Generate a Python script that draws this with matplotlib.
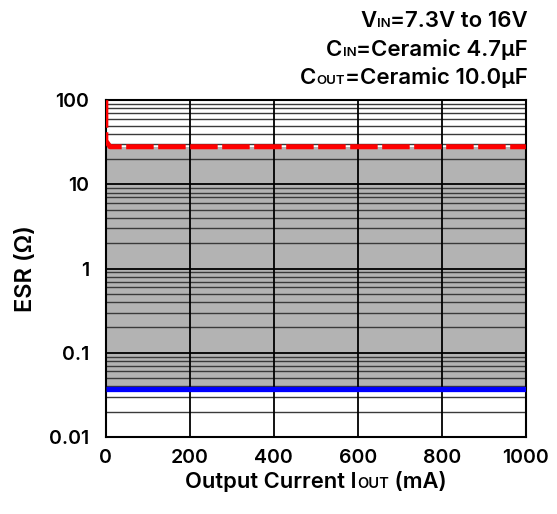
import numpy as np
import matplotlib
matplotlib.use("Agg")
import matplotlib.pyplot as plt
from matplotlib.offsetbox import TextArea, HPacker, AnchoredOffsetbox

plt.rcParams['font.family'] = ['Inter', 'DejaVu Sans']

# data
iout_range = [0, 1000]          # mA
esr_low = 0.037                 # lower stable ESR limit (ohm)
esr_high = 28                   # upper stable ESR limit (ohm)
red_x = [0, 0, 10, 1000]
red_y = [100, 33, 28, 28]
blue_x = [0, 1000]
blue_y = [0.037, 0.037]
x_ticks = [0, 200, 400, 600, 800, 1000]
y_ticks = [0.01, 0.1, 1, 10, 100]
y_ticklabels = ['0.01', '0.1', '1', '10', '100']

W = 'semibold'

fig = plt.figure(figsize=(5.57, 5.14), dpi=100)
ax = fig.add_axes([0.190, 0.150, 0.754, 0.655])

ax.set_yscale('log')
ax.set_xlim(0, 1000)
ax.set_ylim(0.01, 100)

# stable region
ax.fill_between(iout_range, [esr_low] * 2, [esr_high] * 2,
                color='#b3b3b3', lw=0, zorder=1)

# grid
for d in [0.01, 0.1, 1, 10]:
    for m in range(2, 10):
        ax.axhline(d * m, color='#3a3a3a', lw=1.0, zorder=2)
for d in y_ticks:
    ax.axhline(d, color='black', lw=1.3, zorder=2)
for x in x_ticks[1:-1]:
    ax.axvline(x, color='black', lw=1.3, zorder=2)

ax.plot(blue_x, blue_y, color='#0000ff', lw=3.8, zorder=4, solid_capstyle='butt')
ax.plot(red_x, red_y, color='#ff0000', lw=3.6, ls=(0, (5.5, 0.9)), zorder=5)

ax.set_xticks(x_ticks)
ax.set_yticks(y_ticks)
ax.set_yticklabels(y_ticklabels)
ax.yaxis.set_minor_locator(matplotlib.ticker.NullLocator())
ax.tick_params(length=0, labelsize=14)
ax.tick_params(axis='x', pad=9)
ax.tick_params(axis='y', pad=12)
for lab in ax.get_xticklabels() + ax.get_yticklabels():
    lab.set_fontweight(W)
for s in ax.spines.values():
    s.set_linewidth(1.5)

ax.set_ylabel('ESR (Ω)', fontsize=17, fontweight=W, labelpad=9)

def packed(parts):
    boxes = [TextArea(t, textprops=dict(fontsize=sz, fontweight=W, color='black'))
             for t, sz in parts]
    return HPacker(children=boxes, align='baseline', pad=0, sep=0)

xl = packed([('Output Current I', 15.8), ('OUT', 10.5), (' (mA)', 15.8)])
ax.add_artist(AnchoredOffsetbox(loc='center', child=xl, frameon=False,
                                bbox_to_anchor=(0.5, -0.135),
                                bbox_transform=ax.transAxes, pad=0, borderpad=0))

lines = [
    [('V', 16), ('IN', 9.5), ('=7.3V to 16V', 16)],
    [('C', 16), ('IN', 9.5), ('=Ceramic 4.7µF', 16)],
    [('C', 16), ('OUT', 9.5), ('=Ceramic 10.0µF', 16)],
]
for i, parts in enumerate(lines):
    fig.add_artist(AnchoredOffsetbox(loc='center right', child=packed(parts),
                                     frameon=False,
                                     bbox_to_anchor=(528 / 557, 1 - (21 + 28 * i) / 514),
                                     bbox_transform=fig.transFigure,
                                     pad=0, borderpad=0))

fig.savefig('out.png', dpi=100)
